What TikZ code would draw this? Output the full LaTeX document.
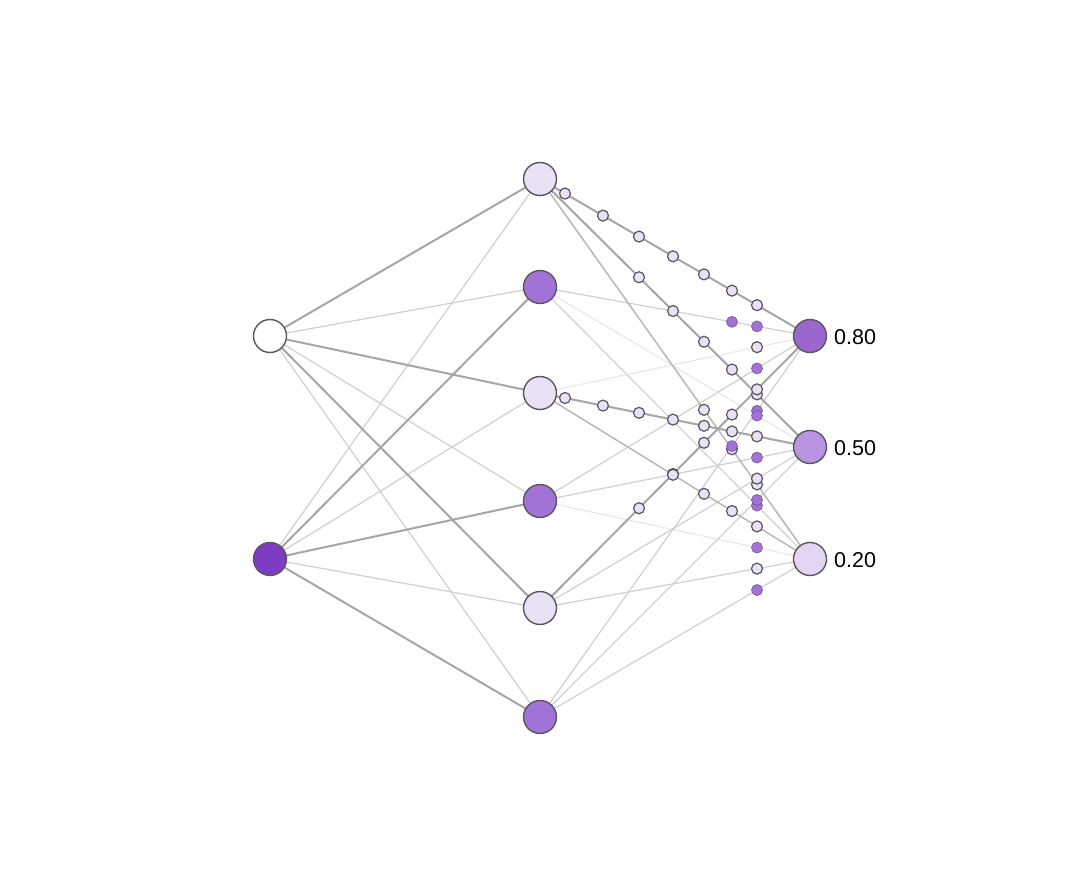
\documentclass[tikz,border=0pt]{standalone}
\usepackage{fontspec}
\setmainfont{Liberation Sans}
\usetikzlibrary{calc}
\definecolor{lav}{HTML}{E9E1F4}
\definecolor{hpur}{HTML}{A273D6}
\definecolor{ipur}{HTML}{7D3CC2}
\definecolor{oa}{HTML}{9B67CF}
\definecolor{ob}{HTML}{B994E0}
\definecolor{oc}{HTML}{E2D6F2}
\definecolor{outl}{HTML}{5A5560}
\definecolor{ga}{HTML}{A6A6A6}
\definecolor{gb}{HTML}{B8B8B8}
\definecolor{gc}{HTML}{D0D0D0}
\definecolor{gd}{HTML}{E6E6E6}
\tikzset{
  neuron/.style={circle, draw=outl, line width=1.4pt, minimum size=33pt, inner sep=0pt},
  sig/.style={circle, draw=outl, line width=1.2pt, minimum size=11pt, inner sep=0pt, fill=lav},
  sigp/.style={circle, draw=hpur!70!black, line width=0.6pt, minimum size=11pt, inner sep=0pt, fill=hpur},
  ea/.style={draw=ga, line width=2pt},
  eb/.style={draw=gb, line width=1.5pt},
  ec/.style={draw=gc, line width=1.2pt},
  ed/.style={draw=gd, line width=1pt},
  lab/.style={anchor=west, inner sep=0pt, font=\fontsize{21.5}{25}\selectfont}
}
\begin{document}
\begin{tikzpicture}[x=1pt, y=-1pt]
\useasboundingbox (0,0) rectangle (1080,896);
\fill[white] (0,0) rectangle (1080,896);
% coordinates
\coordinate (ci1) at (270,336);
\coordinate (ci2) at (270,559);
\coordinate (ch1) at (540,179);
\coordinate (ch2) at (540,287);
\coordinate (ch3) at (540,393);
\coordinate (ch4) at (540,501);
\coordinate (ch5) at (540,608);
\coordinate (ch6) at (540,717);
\coordinate (co1) at (810,336);
\coordinate (co2) at (810,447);
\coordinate (co3) at (810,559);
% input -> hidden edges
\draw[ec] (ci1) -- (ch2);
\draw[ec] (ci1) -- (ch4);
\draw[ec] (ci1) -- (ch6);
\draw[ec] (ci2) -- (ch1);
\draw[ec] (ci2) -- (ch3);
\draw[ec] (ci2) -- (ch5);
\draw[ea] (ci1) -- (ch1);
\draw[ea] (ci1) -- (ch3);
\draw[ea] (ci1) -- (ch5);
\draw[ea] (ci2) -- (ch2);
\draw[ea] (ci2) -- (ch4);
\draw[ea] (ci2) -- (ch6);
% hidden -> output edges
\draw[ed] (ch2) -- (co2);
\draw[ed] (ch3) -- (co1);
\draw[ed] (ch4) -- (co3);
\draw[ec] (ch4) -- (co1);
\draw[ec] (ch4) -- (co2);
\draw[ec] (ch2) -- (co3);
\draw[ec] (ch5) -- (co2);
\draw[ec] (ch5) -- (co3);
\draw[ec] (ch6) -- (co1);
\draw[ec] (ch6) -- (co2);
\draw[ec] (ch6) -- (co3);
\draw[ec] (ch2) -- (co1);
\draw[eb] (ch1) -- (co3);
\draw[eb] (ch3) -- (co3);
\draw[ea] (ch1) -- (co1);
\draw[ea] (ch1) -- (co2);
\draw[ea] (ch3) -- (co2);
\draw[ea] (ch5) -- (co1);
% neurons
\node[neuron, fill=white] (i1) at (ci1) {};
\node[neuron, fill=ipur] (i2) at (ci2) {};
\node[neuron, fill=lav] (h1) at (ch1) {};
\node[neuron, fill=hpur] (h2) at (ch2) {};
\node[neuron, fill=lav] (h3) at (ch3) {};
\node[neuron, fill=hpur] (h4) at (ch4) {};
\node[neuron, fill=lav] (h5) at (ch5) {};
\node[neuron, fill=hpur] (h6) at (ch6) {};
\node[neuron, fill=oa] (o1) at (co1) {};
\node[neuron, fill=ob] (o2) at (co2) {};
\node[neuron, fill=oc] (o3) at (co3) {};
% signal dots
\foreach \t in {0.0926,0.2333,0.3667,0.4926,0.6074,0.7111,0.8037}{
  \node[sig] at ($(ch1)!\t!(co1)$) {};
  \node[sig] at ($(ch3)!\t!(co2)$) {};
}
\foreach \t in {0.3667,0.4926,0.6074,0.7111,0.8037}{
  \node[sig] at ($(ch1)!\t!(co2)$) {};
  \node[sig] at ($(ch5)!\t!(co1)$) {};
}
\foreach \t in {0.4926,0.6074,0.7111,0.8037}{
  \node[sig] at ($(ch3)!\t!(co3)$) {};
}
\foreach \t in {0.6074,0.7111,0.8037}{
  \node[sig] at ($(ch1)!\t!(co3)$) {};
}
\foreach \t in {0.7111,0.8037}{
  \node[sigp] at ($(ch2)!\t!(co1)$) {};
  \node[sigp] at ($(ch6)!\t!(co1)$) {};
}
\node[sigp] at ($(ch2)!0.8037!(co2)$) {};
\node[sigp] at ($(ch2)!0.8037!(co3)$) {};
\node[sigp] at ($(ch4)!0.8037!(co1)$) {};
\node[sigp] at ($(ch4)!0.8037!(co2)$) {};
\node[sigp] at ($(ch4)!0.8037!(co3)$) {};
\node[sigp] at ($(ch6)!0.8037!(co2)$) {};
\node[sigp] at ($(ch6)!0.8037!(co3)$) {};
\node[sig] at ($(ch3)!0.8037!(co1)$) {};
\node[sig] at ($(ch5)!0.8037!(co2)$) {};
\node[sig] at ($(ch5)!0.8037!(co3)$) {};
% labels
\node[lab] (l1) at (834,337) {0.80};
\node[lab] (l2) at (834,448) {0.50};
\node[lab] (l3) at (834,560) {0.20};
\end{tikzpicture}
\end{document}
